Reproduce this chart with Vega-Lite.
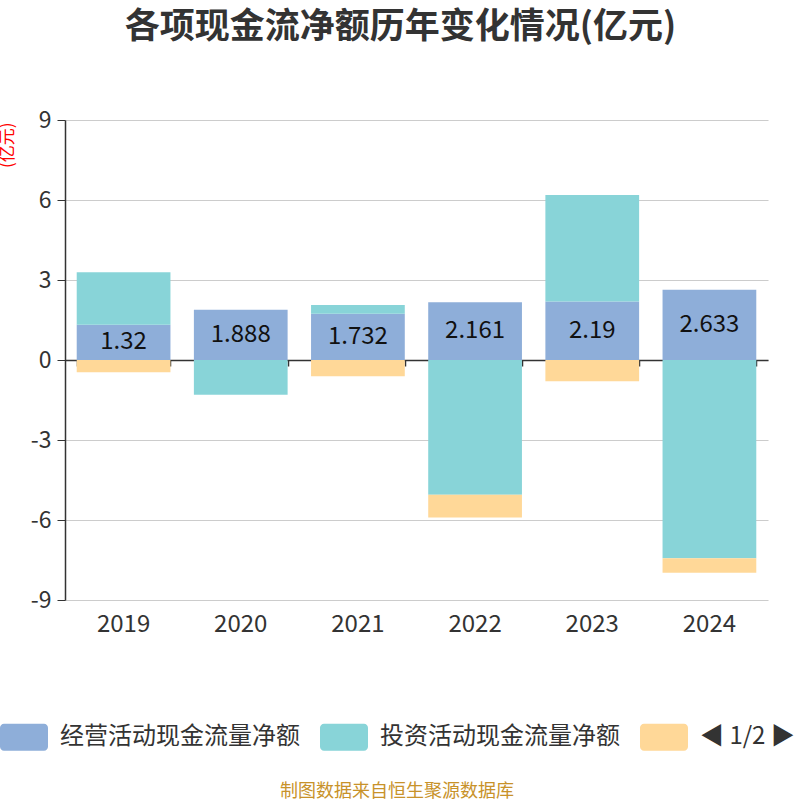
{
  "$schema": "https://vega.github.io/schema/vega-lite/v6.json",
  "width": 703,
  "height": 480,
  "autosize": "none",
  "padding": {"left": 65, "top": 120, "right": 32, "bottom": 200},
  "background": "#ffffff",
  "title": {
    "text": "各项现金流净额历年变化情况(亿元)",
    "fontSize": 35,
    "fontWeight": "bold",
    "color": "#333333",
    "offset": 64,
    "dx": -16,
    "anchor": "middle"
  },
  "data": {
    "values": [
      {"year": "2019", "series": "经营活动现金流量净额", "k": 1, "value": 1.32},
      {"year": "2019", "series": "投资活动现金流量净额", "k": 2, "value": 1.97},
      {"year": "2019", "series": "筹资活动现金流量净额", "k": 3, "value": -0.46},
      {"year": "2020", "series": "经营活动现金流量净额", "k": 1, "value": 1.888},
      {"year": "2020", "series": "投资活动现金流量净额", "k": 2, "value": -1.3},
      {"year": "2020", "series": "筹资活动现金流量净额", "k": 3, "value": 0},
      {"year": "2021", "series": "经营活动现金流量净额", "k": 1, "value": 1.732},
      {"year": "2021", "series": "投资活动现金流量净额", "k": 2, "value": 0.33},
      {"year": "2021", "series": "筹资活动现金流量净额", "k": 3, "value": -0.61},
      {"year": "2022", "series": "经营活动现金流量净额", "k": 1, "value": 2.161},
      {"year": "2022", "series": "投资活动现金流量净额", "k": 2, "value": -5.05},
      {"year": "2022", "series": "筹资活动现金流量净额", "k": 3, "value": -0.86},
      {"year": "2023", "series": "经营活动现金流量净额", "k": 1, "value": 2.19},
      {"year": "2023", "series": "投资活动现金流量净额", "k": 2, "value": 4.0},
      {"year": "2023", "series": "筹资活动现金流量净额", "k": 3, "value": -0.8},
      {"year": "2024", "series": "经营活动现金流量净额", "k": 1, "value": 2.633},
      {"year": "2024", "series": "投资活动现金流量净额", "k": 2, "value": -7.43},
      {"year": "2024", "series": "筹资活动现金流量净额", "k": 3, "value": -0.55}
    ]
  },
  "resolve": {"axis": {"x": "independent"}},
  "layer": [
    {
      "mark": {"type": "bar"},
      "encoding": {
        "x": {
          "field": "year",
          "type": "ordinal",
          "scale": {"paddingInner": 0.2, "paddingOuter": 0.1},
          "axis": {
            "orient": "bottom",
            "title": null,
            "domain": false,
            "ticks": false,
            "labelAngle": 0,
            "labelFontSize": 24,
            "labelColor": "#333333",
            "labelPadding": 12,
            "grid": false
          }
        },
        "y": {
          "field": "value",
          "type": "quantitative",
          "stack": "zero",
          "scale": {"domain": [-9, 9], "nice": false},
          "axis": {
            "values": [-9, -6, -3, 0, 3, 6, 9],
            "labelExpr": "datum.value + ''",
            "title": "(亿元)",
            "titleColor": "#ff0000",
            "titleFontSize": 17,
            "titleFontWeight": "normal",
            "titleAngle": -90,
            "titleX": -58,
            "titleY": 2,
            "titleAlign": "right",
            "titleBaseline": "middle",
            "labelFontSize": 23,
            "labelColor": "#333333",
            "labelPadding": 6,
            "tickSize": 8,
            "tickColor": "#333333",
            "domainColor": "#333333",
            "domainWidth": 1.5,
            "gridColor": "#cccccc",
            "gridWidth": 1.2
          }
        },
        "color": {
          "field": "series",
          "type": "nominal",
          "sort": ["经营活动现金流量净额", "投资活动现金流量净额", "筹资活动现金流量净额"],
          "scale": {
            "domain": ["经营活动现金流量净额", "投资活动现金流量净额", "筹资活动现金流量净额"],
            "range": ["#8eaed9", "#88d4d8", "#ffd898"]
          },
          "legend": {
            "orient": "none",
            "legendX": -65,
            "legendY": 593,
            "direction": "horizontal",
            "title": "制图数据来自恒生聚源数据库",
            "titleOrient": "bottom",
            "titleAnchor": "middle",
            "titleColor": "#c8922a",
            "titleFontSize": 18,
            "titleFontWeight": "normal",
            "titleLimit": 500,
            "titlePadding": 32,
            "labelFontSize": 24,
            "labelColor": "#333333",
            "labelLimit": 300,
            "labelOffset": 12,
            "columnPadding": 20,
            "symbolType": "M-0.833,-0.5625H0.833A0.167,0.167 0 0 1 1,-0.396V0.396A0.167,0.167 0 0 1 0.833,0.5625H-0.833A0.167,0.167 0 0 1 -1,0.396V-0.396A0.167,0.167 0 0 1 -0.833,-0.5625Z",
            "symbolSize": 2304,
            "symbolStrokeWidth": 0,
            "symbolOpacity": 1,
            "labelExpr": "datum.label == '筹资活动现金流量净额' ? '◀ 1/2 ▶' : datum.label"
          }
        },
        "order": {"field": "k", "type": "quantitative"}
      }
    },
    {
      "transform": [{"filter": "datum.k == 1"}],
      "mark": {"type": "text", "fontSize": 24, "color": "#111111", "baseline": "middle"},
      "encoding": {
        "x": {
          "field": "year",
          "type": "ordinal",
          "axis": {
            "orient": "top",
            "offset": -240,
            "title": null,
            "labels": false,
            "grid": false,
            "domain": true,
            "domainColor": "#333333",
            "domainWidth": 1.5,
            "ticks": true,
            "tickBand": "extent",
            "tickSize": -6,
            "tickColor": "#333333",
            "tickWidth": 1.5
          }
        },
        "y": {"field": "value", "type": "quantitative", "stack": "zero", "bandPosition": 0.5},
        "text": {"field": "value", "type": "nominal"}
      }
    }
  ],
  "config": {
    "font": "Noto Sans CJK SC",
    "view": {"stroke": null}
  }
}
